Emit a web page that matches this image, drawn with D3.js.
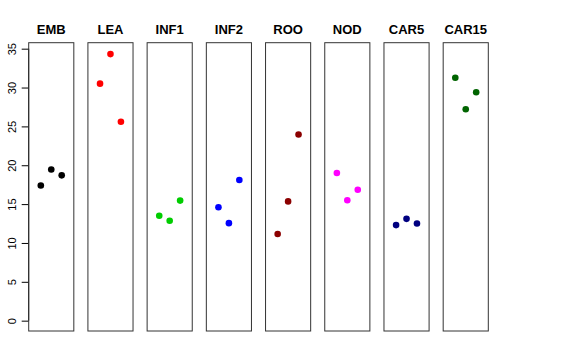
<!DOCTYPE html>
<html><head><meta charset="utf-8">
<script src="https://cdn.jsdelivr.net/npm/d3@7"></script>
<style>body{margin:0;background:#fff}svg{display:block}</style>
</head><body>
<script>
const categories = ["EMB","LEA","INF1","INF2","ROO","NOD","CAR5","CAR15"];
const colors = ["#000000","#FF0000","#00CD00","#0000FF","#8B0000","#FF00FF","#000080","#006400"];
const replicate = [1,2,3];
const EMB = [17.4,19.45,18.7];
const LEA = [30.5,34.3,25.6];
const INF1 = [13.5,12.85,15.45];
const INF2 = [14.6,12.55,18.1];
const ROO = [11.15,15.35,23.95];
const NOD = [19.0,15.5,16.85];
const CAR5 = [12.3,13.1,12.5];
const CAR15 = [31.25,27.2,29.4];
const values = [EMB,LEA,INF1,INF2,ROO,NOD,CAR5,CAR15];
const yTicks = [0,5,10,15,20,25,30,35];

(function(){
const W=576,H=360;
const svg=d3.select("body").append("svg").attr("width",W).attr("height",H);
const plotTop=42.7,plotBottom=331;
const y=d3.scaleLinear().domain([-1.33,35.77]).range([plotBottom,plotTop]);
const band=d3.scaleBand().domain(categories).range([28.7,488.3]).paddingInner(0.238);
const bw=band.bandwidth();
const xi=d3.scaleLinear().domain([-0.16,4.16]).range([0,bw]);

// y axis
const ax=svg.append("g").attr("transform",`translate(${band(categories[0])},0)`)
  .call(d3.axisLeft(y).tickValues(yTicks).tickSize(7).tickPadding(0).tickFormat(d3.format("d")));
ax.select(".domain").remove();
ax.selectAll(".tick line").attr("stroke","#000");
ax.selectAll(".tick text").attr("transform","rotate(-90)").attr("x",0).attr("y",-17)
  .attr("dy","0.35em").attr("text-anchor","middle").attr("font-family","Liberation Sans, Arial, sans-serif")
  .attr("font-size",11).attr("fill","#000");
ax.append("line").attr("x1",0).attr("x2",0).attr("y1",y(0)).attr("y2",y(35)).attr("stroke","#000");

categories.forEach((c,i)=>{
  const g=svg.append("g").attr("transform",`translate(${band(c)},0)`);
  g.append("rect").attr("x",0).attr("y",plotTop).attr("width",bw).attr("height",plotBottom-plotTop)
    .attr("fill","none").attr("stroke","#333").attr("stroke-width",1);
  g.append("text").attr("x",bw/2).attr("y",plotTop-9).attr("text-anchor","middle")
    .attr("font-family","Liberation Sans, Arial, sans-serif").attr("font-weight","bold")
    .attr("font-size",13).text(c);
  g.selectAll("circle").data(values[i]).join("circle")
    .attr("cx",(d,j)=>xi(replicate[j])).attr("cy",d=>y(d)).attr("r",3.3).attr("fill",colors[i]);
});
})();
</script>
</body></html>
